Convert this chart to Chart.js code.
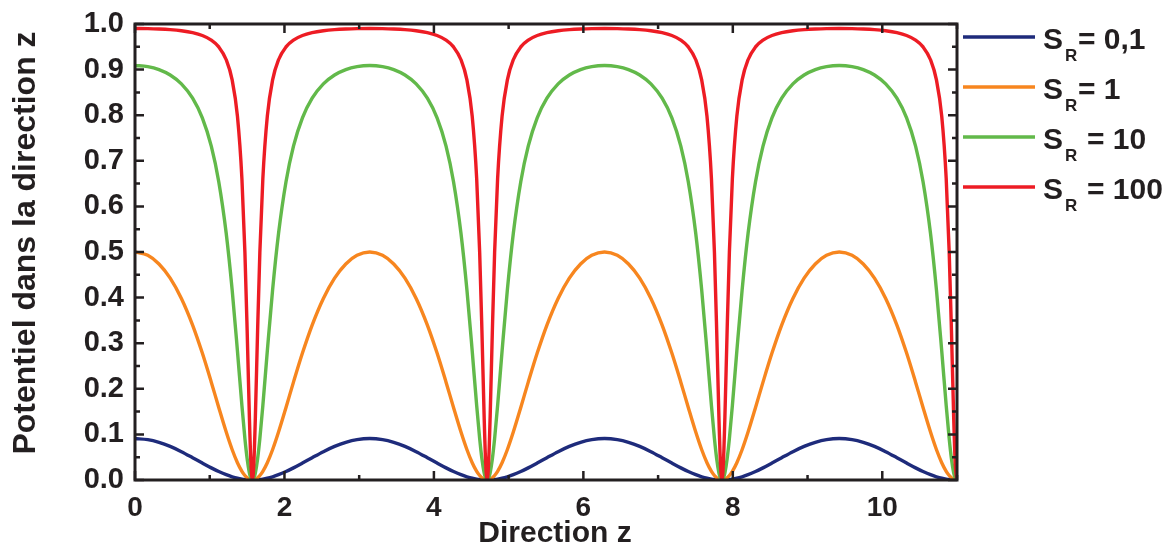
<!DOCTYPE html>
<html><head><meta charset="utf-8">
<script src="https://cdn.jsdelivr.net/npm/chart.js@4"></script>
<style>html,body{margin:0;padding:0;background:#fff;}#wrap{width:1173px;height:560px;position:relative;}</style>
</head><body><div id="wrap"><canvas id="c" width="1173" height="560"></canvas></div>
<script>
// Direction z (x positions of the read points)
const zValues = [
0,0.1708,0.3208,0.4708,0.6208,0.7708,0.9008,1.0208,1.1208,1.2208,1.3008,1.3708,1.4308,1.4708,1.5008,1.5308,1.5508,1.5708,
1.5908,1.6108,1.6408,1.6708,1.7108,1.7708,1.8408,1.9208,2.0208,2.1208,2.2408,2.3708,2.5208,2.6708,2.8208,2.9708,3.1416,
3.3124,3.4624,3.6124,3.7624,3.9124,4.0424,4.1624,4.2624,4.3624,4.4424,4.5124,4.5724,4.6124,4.6424,4.6724,4.6924,4.7124,
4.7324,4.7524,4.7824,4.8124,4.8524,4.9124,4.9824,5.0624,5.1624,5.2624,5.3824,5.5124,5.6624,5.8124,5.9624,6.1124,6.2832,
6.4540,6.6040,6.7540,6.9040,7.0540,7.1840,7.3040,7.4040,7.5040,7.5840,7.6540,7.7140,7.7540,7.7840,7.8140,7.8340,7.8540,
7.8740,7.8940,7.9240,7.9540,7.9940,8.0540,8.1240,8.2040,8.3040,8.4040,8.5240,8.6540,8.8040,8.9540,9.1040,9.2540,9.4248,
9.5956,9.7456,9.8956,10.0456,10.1956,10.3256,10.4456,10.5456,10.6456,10.7256,10.7956,10.8556,10.8956,10.9256,10.9556,10.9756,10.9956];

const seriesNames = ["0,1", "1", "10", "100"];
const seriesColors = ["#1e2b7b", "#f7861f", "#62b94a", "#ed1c24"];

const sr01Values = [
0.0909,0.0885,0.0826,0.0736,0.0621,0.0489,0.0371,0.0266,0.0186,0.0116,0.0071,0.0039,0.0019,0.0010,0.0005,0.0002,0.0000,0,
0.0000,0.0002,0.0005,0.0010,0.0019,0.0039,0.0071,0.0116,0.0186,0.0266,0.0371,0.0489,0.0621,0.0736,0.0826,0.0885,0.0909,
0.0885,0.0826,0.0736,0.0621,0.0489,0.0371,0.0266,0.0186,0.0116,0.0071,0.0039,0.0019,0.0010,0.0005,0.0002,0.0000,0,
0.0000,0.0002,0.0005,0.0010,0.0019,0.0039,0.0071,0.0116,0.0186,0.0266,0.0371,0.0489,0.0621,0.0736,0.0826,0.0885,0.0909,
0.0885,0.0826,0.0736,0.0621,0.0489,0.0371,0.0266,0.0186,0.0116,0.0071,0.0039,0.0019,0.0010,0.0005,0.0002,0.0000,0,
0.0000,0.0002,0.0005,0.0010,0.0019,0.0039,0.0071,0.0116,0.0186,0.0266,0.0371,0.0489,0.0621,0.0736,0.0826,0.0885,0.0909,
0.0885,0.0826,0.0736,0.0621,0.0489,0.0371,0.0266,0.0186,0.0116,0.0071,0.0039,0.0019,0.0010,0.0005,0.0002,0.0000,0];

const sr1Values = [
0.5,0.4927,0.4738,0.4427,0.3982,0.3398,0.2783,0.2146,0.1591,0.1052,0.0664,0.0380,0.0191,0.0099,0.0049,0.0016,0.0004,0,
0.0004,0.0016,0.0049,0.0099,0.0191,0.0380,0.0664,0.1052,0.1591,0.2146,0.2783,0.3398,0.3982,0.4427,0.4738,0.4927,0.5,
0.4927,0.4738,0.4427,0.3982,0.3398,0.2783,0.2146,0.1591,0.1052,0.0664,0.0380,0.0191,0.0099,0.0049,0.0016,0.0004,0,
0.0004,0.0016,0.0049,0.0099,0.0191,0.0380,0.0664,0.1052,0.1591,0.2146,0.2783,0.3398,0.3982,0.4427,0.4738,0.4927,0.5,
0.4927,0.4738,0.4427,0.3982,0.3398,0.2783,0.2146,0.1591,0.1052,0.0664,0.0380,0.0191,0.0099,0.0049,0.0016,0.0004,0,
0.0004,0.0016,0.0049,0.0099,0.0191,0.0380,0.0664,0.1052,0.1591,0.2146,0.2783,0.3398,0.3982,0.4427,0.4738,0.4927,0.5,
0.4927,0.4738,0.4427,0.3982,0.3398,0.2783,0.2146,0.1591,0.1052,0.0664,0.0380,0.0191,0.0099,0.0049,0.0016,0.0004,0];

const sr10Values = [
0.9091,0.9066,0.9001,0.8882,0.8687,0.8373,0.7941,0.7321,0.6542,0.5404,0.4157,0.2830,0.1630,0.0906,0.0466,0.0157,0.0040,0,
0.0040,0.0157,0.0466,0.0906,0.1630,0.2830,0.4157,0.5404,0.6542,0.7321,0.7941,0.8373,0.8687,0.8882,0.9001,0.9066,0.9091,
0.9066,0.9001,0.8882,0.8687,0.8373,0.7941,0.7321,0.6542,0.5404,0.4157,0.2830,0.1630,0.0906,0.0466,0.0157,0.0040,0,
0.0040,0.0157,0.0466,0.0906,0.1630,0.2830,0.4157,0.5404,0.6542,0.7321,0.7941,0.8373,0.8687,0.8882,0.9001,0.9066,0.9091,
0.9066,0.9001,0.8882,0.8687,0.8373,0.7941,0.7321,0.6542,0.5404,0.4157,0.2830,0.1630,0.0906,0.0466,0.0157,0.0040,0,
0.0040,0.0157,0.0466,0.0906,0.1630,0.2830,0.4157,0.5404,0.6542,0.7321,0.7941,0.8373,0.8687,0.8882,0.9001,0.9066,0.9091,
0.9066,0.9001,0.8882,0.8687,0.8373,0.7941,0.7321,0.6542,0.5404,0.4157,0.2830,0.1630,0.0906,0.0466,0.0157,0.0040,0];

const sr100Values = [
0.9901,0.9898,0.9890,0.9876,0.9851,0.9809,0.9747,0.9647,0.9498,0.9216,0.8768,0.7979,0.6607,0.4992,0.3285,0.1379,0.0385,0,
0.0385,0.1379,0.3285,0.4992,0.6607,0.7979,0.8768,0.9216,0.9498,0.9647,0.9747,0.9809,0.9851,0.9876,0.9890,0.9898,0.9901,
0.9898,0.9890,0.9876,0.9851,0.9809,0.9747,0.9647,0.9498,0.9216,0.8768,0.7979,0.6607,0.4992,0.3285,0.1379,0.0385,0,
0.0385,0.1379,0.3285,0.4992,0.6607,0.7979,0.8768,0.9216,0.9498,0.9647,0.9747,0.9809,0.9851,0.9876,0.9890,0.9898,0.9901,
0.9898,0.9890,0.9876,0.9851,0.9809,0.9747,0.9647,0.9498,0.9216,0.8768,0.7979,0.6607,0.4992,0.3285,0.1379,0.0385,0,
0.0385,0.1379,0.3285,0.4992,0.6607,0.7979,0.8768,0.9216,0.9498,0.9647,0.9747,0.9809,0.9851,0.9876,0.9890,0.9898,0.9901,
0.9898,0.9890,0.9876,0.9851,0.9809,0.9747,0.9647,0.9498,0.9216,0.8768,0.7979,0.6607,0.4992,0.3285,0.1379,0.0385,0];

const xTickValues = [0, 2, 4, 6, 8, 10];
const xMinorTickValues = [1, 3, 5, 7, 9, 11];
const yTickValues = [0, 0.1, 0.2, 0.3, 0.4, 0.5, 0.6, 0.7, 0.8, 0.9, 1.0];
const yMinorTickValues = [0.05, 0.15, 0.25, 0.35, 0.45, 0.55, 0.65, 0.75, 0.85, 0.95];
const xTitle = 'Direction z';
const yTitle = 'Potentiel dans la direction z';

const FONT = '"Liberation Sans", Arial, Helvetica, sans-serif';
const INK = '#231f20';

const allSeries = [sr01Values, sr1Values, sr10Values, sr100Values];
const datasets = allSeries.map((vals, i) => ({
  label: 'S_R = ' + seriesNames[i],
  data: zValues.map((z, j) => ({x: z, y: vals[j]})),
  borderColor: seriesColors[i],
  backgroundColor: seriesColors[i],
  borderWidth: 3.4,
  pointRadius: 0,
  fill: false,
  cubicInterpolationMode: 'monotone',
  order: allSeries.length - 1 - i
}));

const framePlugin = {
  id: 'frame',
  afterDatasetsDraw(chart) {
    const {ctx, chartArea: a, scales: {x, y}} = chart;
    ctx.save();
    ctx.strokeStyle = INK;
    ctx.lineWidth = 2.5;
    ctx.lineCap = 'butt';
    const vt = (v, len) => {
      const px = x.getPixelForValue(v);
      ctx.beginPath();
      ctx.moveTo(px, a.bottom); ctx.lineTo(px, a.bottom - len);
      ctx.moveTo(px, a.top); ctx.lineTo(px, a.top + len);
      ctx.stroke();
    };
    const ht = (v, len) => {
      const py = y.getPixelForValue(v);
      ctx.beginPath();
      ctx.moveTo(a.left, py); ctx.lineTo(a.left + len, py);
      ctx.moveTo(a.right, py); ctx.lineTo(a.right - len, py);
      ctx.stroke();
    };
    xTickValues.forEach(v => vt(v, 9));
    xMinorTickValues.forEach(v => vt(v, 5));
    yTickValues.forEach(v => ht(v, 9));
    yMinorTickValues.forEach(v => ht(v, 5));
    ctx.lineWidth = 3;
    ctx.strokeRect(a.left, a.top, a.right - a.left, a.bottom - a.top);
    ctx.restore();
  }
};

const titlesPlugin = {
  id: 'axisTitles',
  afterDraw(chart) {
    const ctx = chart.ctx;
    ctx.save();
    ctx.fillStyle = INK;
    ctx.textBaseline = 'alphabetic';
    ctx.textAlign = 'center';
    ctx.font = 'bold 30px ' + FONT;
    ctx.fillText(xTitle, 555, 542);
    ctx.translate(35, 243);
    ctx.rotate(-Math.PI / 2);
    ctx.font = 'bold 32px ' + FONT;
    ctx.fillText(yTitle, 0, 0);
    ctx.restore();
  }
};

const legendPlugin = {
  id: 'srLegend',
  afterDraw(chart) {
    const ctx = chart.ctx;
    ctx.save();
    chart.data.datasets.forEach((ds, i) => {
      const ly = 37 + i * 50;
      ctx.strokeStyle = ds.borderColor;
      ctx.lineWidth = 3.4;
      ctx.beginPath(); ctx.moveTo(963, ly); ctx.lineTo(1035, ly); ctx.stroke();
      ctx.fillStyle = INK;
      ctx.textBaseline = 'alphabetic';
      ctx.textAlign = 'left';
      ctx.font = 'bold 30px ' + FONT;
      ctx.fillText('S', 1043, ly + 11.5);
      ctx.font = 'bold 17px ' + FONT;
      ctx.fillText('R', 1065, ly + 24);
      ctx.font = 'bold 30px ' + FONT;
      ctx.fillText('= ' + seriesNames[i], (i >= 2) ? 1087 : 1078, ly + 11.5);
    });
    ctx.restore();
  }
};

new Chart(document.getElementById('c'), {
  type: 'line',
  data: {datasets},
  options: {
    responsive: false,
    devicePixelRatio: 1,
    animation: false,
    layout: {padding: {top: 24, right: 216, left: 0, bottom: 0}},
    plugins: {legend: {display: false}, tooltip: {enabled: false}},
    scales: {
      x: {
        type: 'linear', min: 0, max: 11,
        grid: {display: false, drawTicks: false},
        border: {display: false},
        afterBuildTicks: s => { s.ticks = xTickValues.map(v => ({value: v})); },
        afterFit: s => { s.height = 80; s.paddingLeft = 0; s.paddingRight = 0; },
        ticks: {padding: 11, color: INK, font: {family: FONT, size: 28, weight: 'bold'}, maxRotation: 0},
        title: {display: false}
      },
      y: {
        type: 'linear', min: 0, max: 1,
        grid: {display: false, drawTicks: false},
        border: {display: false},
        afterBuildTicks: s => { s.ticks = yTickValues.map(v => ({value: v})); },
        afterFit: s => { s.width = 135; s.paddingTop = 0; s.paddingBottom = 0; },
        ticks: {padding: 11, color: INK, font: {family: FONT, size: 29, weight: 'bold'}, callback: v => Number(v).toFixed(1)},
        title: {display: false}
      }
    }
  },
  plugins: [framePlugin, titlesPlugin, legendPlugin]
});
</script></body></html>
